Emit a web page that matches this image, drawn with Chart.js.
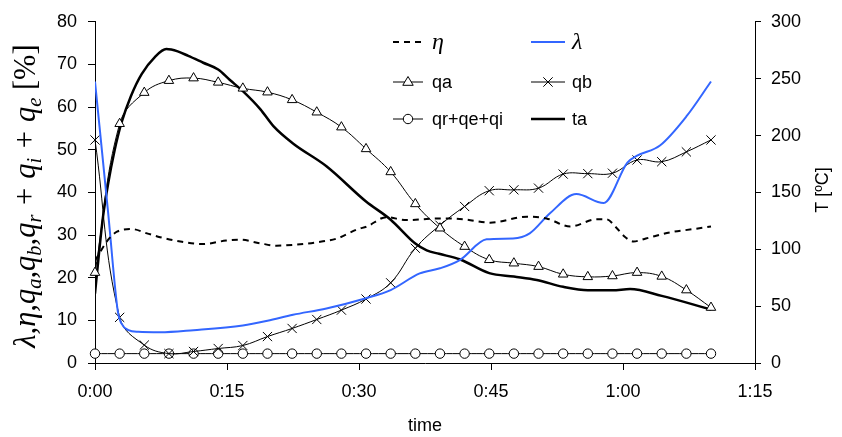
<!DOCTYPE html>
<html>
<head>
<meta charset="utf-8">
<script src="https://cdn.jsdelivr.net/npm/chart.js@4/dist/chart.umd.min.js"></script>
<style>
  html, body { margin: 0; padding: 0; background: #fff; }
  #wrap { width: 842px; height: 437px; position: relative; }
</style>
</head>
<body>
<div id="wrap"><canvas id="c" width="842" height="437"></canvas></div>
<script>
// ---- data (time in minutes) ----
const markerTimes = [0, 2.8, 5.6, 8.4, 11.2, 14, 16.8, 19.6, 22.4, 25.2, 28, 30.8, 33.6, 36.4, 39.2, 42, 44.8, 47.6, 50.4, 53.2, 56, 58.8, 61.6, 64.4, 67.2, 70];
const qa = [21.2, 56.1, 63.4, 66.2, 66.8, 65.8, 64.4, 63.5, 61.7, 58.8, 55.3, 50.2, 44.8, 37.3, 31.6, 27.3, 24.2, 23.4, 22.6, 20.8, 20.2, 20.4, 21.2, 20.3, 17.1, 13.0];
const qb = [52.3, 10.7, 4.2, 2.2, 2.7, 3.4, 4.1, 6.2, 8.1, 10.2, 12.4, 15.0, 18.8, 26.9, 32.3, 36.7, 40.4, 40.6, 41.0, 44.3, 44.4, 44.5, 47.6, 47.2, 49.5, 52.3];
const qrqeqi = [2.2, 2.2, 2.2, 2.2, 2.2, 2.2, 2.2, 2.2, 2.2, 2.2, 2.2, 2.2, 2.2, 2.2, 2.2, 2.2, 2.2, 2.2, 2.2, 2.2, 2.2, 2.2, 2.2, 2.2, 2.2, 2.2];

const etaTimes = [0, 1.5, 2.5, 4.2, 5.9, 7.4, 9.7, 12.3, 14.9, 16.5, 18.7, 20.6, 22.5, 25.2, 27.5, 29.9, 30.9, 33.1, 35.4, 39.2, 41.9, 44.9, 49.1, 51.3, 54.0, 57.0, 58.1, 59.3, 60.2, 61.2, 62.6, 65.3, 68.0, 70.0];
const eta = [24.0, 28.9, 30.8, 31.4, 30.4, 29.5, 28.5, 27.9, 28.7, 28.9, 28.1, 27.5, 27.7, 28.3, 29.2, 31.4, 32.0, 34.2, 33.5, 33.9, 33.7, 32.9, 34.3, 33.9, 32.0, 33.7, 33.7, 31.6, 29.6, 28.5, 29.2, 30.6, 31.4, 32.0];

const lambdaTimes = [0, 1.5, 2.6, 3.0, 3.8, 4.9, 7.4, 11.2, 16.8, 19.6, 22.5, 26.3, 30.8, 33.6, 36.9, 39.2, 41.5, 44.5, 47.5, 49.4, 51.7, 54.7, 57.8, 60.5, 61.6, 64.2, 67.2, 70.0];
const lambda = [66.0, 35.1, 12.0, 9.3, 7.7, 7.3, 7.2, 7.7, 8.8, 9.9, 11.3, 12.8, 15.2, 17.1, 21.0, 22.2, 24.2, 29.0, 29.2, 30.4, 35.1, 39.6, 37.5, 47.0, 48.6, 51.0, 57.8, 66.0];

const taTimes = [0, 0.5, 0.9, 1.5, 2.2, 3.0, 4.1, 5.3, 6.8, 8.1, 9.4, 10.6, 12.3, 14.0, 15.3, 16.8, 18.8, 20.3, 22.5, 26.3, 30.8, 33.6, 36.4, 37.7, 39.1, 41.5, 44.8, 47.6, 50.2, 53.2, 56.0, 58.8, 60.8, 64.4, 70.0];
const ta = [61, 100, 128, 158, 186, 211, 235, 254, 269, 276, 274, 270, 264, 258, 249, 239, 223, 208, 193, 173, 142, 126, 105, 99, 96, 91, 79, 76, 73, 67, 64, 64, 65, 59, 47];

const xTicks = [0, 15, 30, 45, 60, 75];
const leftTicks = [0, 10, 20, 30, 40, 50, 60, 70, 80];
const rightTicks = [0, 50, 100, 150, 200, 250, 300];

// ---- helpers ----
const pts = (xs, ys) => xs.map((x, i) => ({ x: x, y: ys[i] }));
const fmtTime = v => Math.floor(v / 60) + ':' + String(Math.round(v % 60)).padStart(2, '0');
const SANS = "'Liberation Sans', Arial, sans-serif";
const SERIF = "'Liberation Serif', 'Times New Roman', serif";
const BLUE = '#3366ff';

function drawMarker(ctx, style, x, y, r) {
  ctx.save();
  ctx.lineWidth = 1; ctx.strokeStyle = '#000'; ctx.fillStyle = '#fff';
  ctx.beginPath();
  if (style === 'triangle') {
    ctx.moveTo(x, y - r); ctx.lineTo(x + r * 0.95, y + r * 0.6); ctx.lineTo(x - r * 0.95, y + r * 0.6); ctx.closePath();
    ctx.fill(); ctx.stroke();
  } else if (style === 'circle') {
    ctx.arc(x, y, r, 0, Math.PI * 2); ctx.fill(); ctx.stroke();
  } else if (style === 'crossRot') {
    const d = r * 0.72;
    ctx.moveTo(x - d, y - d); ctx.lineTo(x + d, y + d); ctx.moveTo(x + d, y - d); ctx.lineTo(x - d, y + d); ctx.stroke();
  }
  ctx.restore();
}

function drawRich(ctx, parts, cx, cy, rot) {
  ctx.save();
  ctx.translate(cx, cy); ctx.rotate(rot);
  ctx.textAlign = 'left'; ctx.textBaseline = 'alphabetic'; ctx.fillStyle = '#000';
  let total = 0;
  parts.forEach(p => { ctx.font = p.font; p.w = ctx.measureText(p.t).width; total += p.w; });
  let x = -total / 2;
  parts.forEach(p => { ctx.font = p.font; ctx.fillText(p.t, x, p.dy || 0); x += p.w; });
  ctx.restore();
}

const titlePlugin = {
  id: 'titles',
  afterDraw(chart) {
    const ctx = chart.ctx;
    const big = 'italic 30.5px ' + SERIF, sub = 'italic 20.5px ' + SERIF, up = '30.5px ' + SERIF;
    const s = 6;
    drawRich(ctx, [
      { t: 'λ,η,', font: big },
      { t: 'q', font: big }, { t: 'a', font: sub, dy: s }, { t: ',', font: big },
      { t: 'q', font: big }, { t: 'b', font: sub, dy: s }, { t: ',', font: big },
      { t: 'q', font: big }, { t: 'r', font: sub, dy: s }, { t: ' + ', font: big },
      { t: 'q', font: big }, { t: 'i', font: sub, dy: s }, { t: ' + ', font: big },
      { t: 'q', font: big }, { t: 'e', font: sub, dy: s }, { t: ' [%]', font: up }
    ], 35, 196, -Math.PI / 2);
    drawRich(ctx, [{ t: 'T [ºC]', font: '18px ' + SANS }], 828, 190, -Math.PI / 2);
  }
};

const legendPlugin = {
  id: 'customLegend',
  afterDatasetsDraw(chart) {
    const ctx = chart.ctx;
    const cols = [{ x0: 393, x1: 423, tx: 432 }, { x0: 531, x1: 565, tx: 572 }];
    const rows = [42, 82, 119];
    chart.data.datasets.forEach((ds, k) => {
      const c = cols[k % 2], y = rows[Math.floor(k / 2)];
      ctx.save();
      ctx.strokeStyle = ds.borderColor; ctx.lineWidth = ds.borderWidth;
      ctx.setLineDash(ds.borderDash || []);
      ctx.beginPath(); ctx.moveTo(c.x0, y); ctx.lineTo(c.x1, y); ctx.stroke();
      ctx.setLineDash([]);
      if (ds.pointRadius > 0) drawMarker(ctx, ds.pointStyle, (c.x0 + c.x1) / 2, y, ds.pointRadius);
      ctx.fillStyle = '#000'; ctx.textBaseline = 'middle'; ctx.textAlign = 'left';
      if (ds.legendMath) { ctx.font = 'italic 24px ' + SERIF; ctx.fillText(ds.label, c.tx, y + 1); }
      else { ctx.font = '18px ' + SANS; ctx.fillText(ds.label, c.tx, y + 1); }
      ctx.restore();
    });
  }
};

const markerSeries = (label, data, style, r) => ({
  label, data: pts(markerTimes, data), yAxisID: 'y', clip: false,
  borderColor: '#000', borderWidth: 1, tension: 0.4,
  pointStyle: style, pointRadius: r, pointBorderWidth: 1,
  pointBackgroundColor: '#fff', pointBorderColor: '#000'
});

new Chart(document.getElementById('c'), {
  type: 'line',
  data: {
    datasets: [
      { label: 'η', legendMath: true, data: pts(etaTimes, eta), yAxisID: 'y', borderColor: '#000', borderWidth: 2, borderDash: [6, 5], pointRadius: 0, cubicInterpolationMode: 'monotone' },
      { label: 'λ', legendMath: true, data: pts(lambdaTimes, lambda), yAxisID: 'y', borderColor: BLUE, borderWidth: 2, pointRadius: 0, cubicInterpolationMode: 'monotone' },
      markerSeries('qa', qa, 'triangle', 5.5),
      markerSeries('qb', qb, 'crossRot', 6.5),
      markerSeries('qr+qe+qi', qrqeqi, 'circle', 4.7),
      { label: 'ta', data: pts(taTimes, ta), yAxisID: 'y2', borderColor: '#000', borderWidth: 2.5, pointRadius: 0, cubicInterpolationMode: 'monotone' }
    ]
  },
  options: {
    responsive: false, animation: false,
    layout: { padding: { left: 0, right: 0, top: 21, bottom: 0 } },
    plugins: { legend: { display: false }, tooltip: { enabled: false }, title: { display: false } },
    scales: {
      x: {
        type: 'linear', min: 0, max: 75,
        afterBuildTicks: s => { s.ticks = xTicks.map(v => ({ value: v })); },
        afterFit: s => { s.height = 74; },
        ticks: { callback: v => fmtTime(v), color: '#000', font: { family: SANS, size: 18 }, padding: 11, maxRotation: 0, autoSkip: false },
        grid: { display: true, drawOnChartArea: false, drawTicks: true, tickLength: 7, color: '#000', lineWidth: 1 },
        border: { display: true, color: '#000', width: 1 },
        title: { display: true, text: 'time', color: '#000', font: { family: SANS, size: 18 }, padding: { top: 0, bottom: 0 } }
      },
      y: {
        type: 'linear', position: 'left', min: 0, max: 80,
        afterBuildTicks: s => { s.ticks = leftTicks.map(v => ({ value: v })); },
        afterFit: s => { s.width = 95; },
        ticks: { color: '#000', font: { family: SANS, size: 18 }, padding: 11 },
        grid: { display: true, drawOnChartArea: false, drawTicks: true, tickLength: 7, color: '#000', lineWidth: 1 },
        border: { display: true, color: '#000', width: 1 }
      },
      y2: {
        type: 'linear', position: 'right', min: 0, max: 300,
        afterBuildTicks: s => { s.ticks = rightTicks.map(v => ({ value: v })); },
        afterFit: s => { s.width = 87; },
        ticks: { color: '#000', font: { family: SANS, size: 18 }, padding: 10 },
        grid: { display: true, drawOnChartArea: false, drawTicks: true, tickLength: 6, color: '#000', lineWidth: 1 },
        border: { display: true, color: '#000', width: 1 }
      }
    }
  },
  plugins: [titlePlugin, legendPlugin]
});
</script>
</body>
</html>
